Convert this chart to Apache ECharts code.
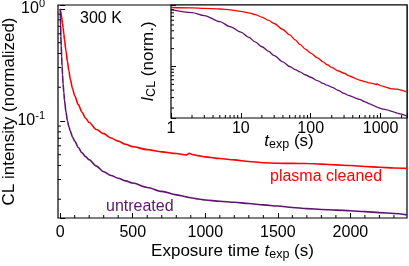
<!DOCTYPE html>
<html>
<head>
<meta charset="utf-8">
<script src="https://cdn.jsdelivr.net/npm/echarts@6/dist/echarts.min.js"></script>
<style>html,body{margin:0;padding:0;background:#fff;}#c{width:409px;height:266px;}</style>
</head>
<body>
<div id="c"></div>
<script>
// ---- data ----
const times = [0, 1, 2, 3, 5, 7, 10, 13, 16, 20, 25, 30, 40, 50, 60, 70, 85, 100, 125, 150, 175, 200, 250, 300, 350, 400, 450, 500, 600, 700, 800, 870, 890, 910, 950, 1000, 1100, 1200, 1300, 1400, 1500, 1600, 1700, 1800, 1900, 2000, 2100, 2200, 2300, 2390];
const plasmaCleaned = [1.0, 0.985, 0.97, 0.955, 0.93, 0.9, 0.85, 0.80, 0.75, 0.68, 0.60, 0.53, 0.42, 0.34, 0.28, 0.235, 0.195, 0.168, 0.14, 0.12, 0.106, 0.097, 0.084, 0.077, 0.0705, 0.066, 0.062, 0.059, 0.0555, 0.053, 0.0512, 0.0498, 0.0515, 0.0502, 0.049, 0.0478, 0.0462, 0.0449, 0.0435, 0.0424, 0.0419, 0.0418, 0.0417, 0.0412, 0.0405, 0.0400, 0.0392, 0.0386, 0.038, 0.0377];
const untreated = [1.0, 0.91, 0.81, 0.72, 0.57, 0.47, 0.38, 0.31, 0.26, 0.215, 0.18, 0.153, 0.12, 0.10, 0.089, 0.081, 0.072, 0.066, 0.058, 0.052, 0.048, 0.045, 0.0395, 0.0352, 0.0326, 0.0308, 0.0292, 0.0279, 0.0255, 0.0235, 0.0219, 0.021, 0.0207, 0.0205, 0.0201, 0.0197, 0.0192, 0.0188, 0.0183, 0.0178, 0.0174, 0.0169, 0.0165, 0.0162, 0.016, 0.0158, 0.0155, 0.0152, 0.0149, 0.0145];

const mainXMinorTicks = [100, 200, 300, 400, 600, 700, 800, 900, 1100, 1200, 1300, 1400, 1600, 1700, 1800, 1900, 2100, 2200, 2300];
const logYMinorTicks = [0.02, 0.03, 0.04, 0.05, 0.06, 0.07, 0.08, 0.09, 0.2, 0.3, 0.4, 0.5, 0.6, 0.7, 0.8, 0.9];
const logXMinorTicks = [2, 3, 4, 5, 6, 7, 8, 9, 20, 30, 40, 50, 60, 70, 80, 90, 200, 300, 400, 500, 600, 700, 800, 900, 2000];

const X_MIN = -15, X_MAX = 2390;
const Y_MIN = 0.0136, Y_MAX = 1.085;
const IX_MIN = 1, IX_MAX = 2390;

const RED = '#ff0000';
const PURPLE = '#5e146e';
const FONT = '"Liberation Sans", Arial, sans-serif';

const chart = echarts.init(document.getElementById('c'), null, {renderer: 'canvas'});

const isPow10 = v => Math.abs(Math.log10(v) - Math.round(Math.log10(v))) < 1e-6;

function pairs(vals, positiveOnly) {
  const out = [];
  for (let i = 0; i < times.length; i++) {
    if (positiveOnly && times[i] <= 0) continue;
    out.push([times[i], vals[i]]);
  }
  return out;
}

function tickSeries(xi, yi, data, dir, len, z) {
  return {
    type: 'custom', xAxisIndex: xi, yAxisIndex: yi, z: z, silent: true, clip: false,
    data: data,
    renderItem: function (params, api) {
      const p = api.coord([api.value(0), api.value(1)]);
      const shape = dir === 'y'
        ? {x1: p[0], y1: p[1], x2: p[0] + len, y2: p[1]}
        : {x1: p[0], y1: p[1], x2: p[0], y2: p[1] - len};
      return {type: 'line', shape: shape, style: {stroke: '#000', lineWidth: 1}};
    }
  };
}

const supRich = {
  b: {fontSize: 16, fontFamily: FONT, color: '#000', lineHeight: 20},
  s: {fontSize: 11, fontFamily: FONT, color: '#000', lineHeight: 10, verticalAlign: 'top'}
};
const nameRich = {
  n: {fontSize: 17, fontFamily: FONT, color: '#000', lineHeight: 20},
  i: {fontSize: 17, fontFamily: FONT, color: '#000', fontStyle: 'italic', lineHeight: 20},
  s: {fontSize: 12.5, fontFamily: FONT, color: '#000', lineHeight: 11, verticalAlign: 'bottom'}
};

const option = {
  animation: false,
  backgroundColor: '#fff',
  grid: [
    {left: 58, right: 2, top: 5, bottom: 48, containLabel: false, outerBoundsMode: 'none', show: true, borderColor: '#000', borderWidth: 1.2, backgroundColor: 'transparent', z: 0},
    {left: 171, right: 2, top: 5, bottom: 148, containLabel: false, outerBoundsMode: 'none', show: true, borderColor: '#000', borderWidth: 1.2, backgroundColor: '#fff', z: 10}
  ],
  xAxis: [
    {
      type: 'value', gridIndex: 0, min: X_MIN, max: X_MAX,
      axisLine: {show: false}, splitLine: {show: false},
      axisTick: {show: true, inside: true, length: 5, lineStyle: {color: '#000', width: 1}},
      axisLabel: {
        margin: 7, fontSize: 16, fontFamily: FONT, color: '#000',
        showMinLabel: false, showMaxLabel: false,
        formatter: v => (v >= 0 && v % 500 === 0) ? String(v) : ''
      },
      name: '{n|Exposure time }{i|t}{s|exp}{n| (s)}',
      nameLocation: 'middle', nameGap: 23, nameMoveOverlap: false,
      nameTextStyle: {rich: nameRich}
    },
    {
      type: 'log', gridIndex: 1, min: IX_MIN, max: IX_MAX, logBase: 10, z: 11,
      axisLine: {show: false}, splitLine: {show: false},
      axisTick: {show: true, inside: true, length: 5, lineStyle: {color: '#000', width: 1}},
      axisLabel: {
        margin: 3, fontSize: 16, fontFamily: FONT, color: '#000',
        formatter: v => isPow10(v) ? String(Math.round(v)) : ''
      },
      name: '{i|t}{s|exp}{n| (s)}',
      nameLocation: 'middle', nameGap: 13, nameMoveOverlap: false,
      nameTextStyle: {rich: nameRich}
    }
  ],
  yAxis: [
    {
      type: 'log', gridIndex: 0, min: Y_MIN, max: Y_MAX, logBase: 10,
      axisLine: {show: false}, splitLine: {show: false},
      axisTick: {show: true, inside: true, length: 5, lineStyle: {color: '#000', width: 1}},
      axisLabel: {
        margin: 13,
        formatter: v => isPow10(v) ? '{b|10}{s|' + Math.round(Math.log10(v)) + '}' : '',
        rich: supRich
      },
      name: 'CL intensity (normalized)',
      nameLocation: 'middle', nameGap: 40, nameMoveOverlap: false,
      nameTextStyle: {fontSize: 17, fontFamily: FONT, color: '#000'}
    },
    {
      type: 'log', gridIndex: 1, min: Y_MIN, max: Y_MAX, logBase: 10, z: 11,
      axisLine: {show: false}, splitLine: {show: false},
      axisTick: {show: true, inside: true, length: 5, lineStyle: {color: '#000', width: 1}},
      axisLabel: {show: false},
      name: '{i|I}{s|CL}{n| (norm.)}',
      nameLocation: 'middle', nameGap: 13, nameMoveOverlap: false,
      nameTextStyle: {rich: nameRich}
    }
  ],
  series: [
    {type: 'line', xAxisIndex: 0, yAxisIndex: 0, z: 2, data: pairs(plasmaCleaned, false), showSymbol: false, smooth: 0.3, smoothMonotone: 'x', lineStyle: {color: RED, width: 1.6}},
    {type: 'line', xAxisIndex: 0, yAxisIndex: 0, z: 2, data: pairs(untreated, false), showSymbol: false, smooth: 0.3, smoothMonotone: 'x', lineStyle: {color: PURPLE, width: 1.6}},
    {type: 'line', xAxisIndex: 1, yAxisIndex: 1, z: 12, data: pairs(plasmaCleaned, true), showSymbol: false, smooth: 0.3, smoothMonotone: 'x', lineStyle: {color: RED, width: 1.3}},
    {type: 'line', xAxisIndex: 1, yAxisIndex: 1, z: 12, data: pairs(untreated, true), showSymbol: false, smooth: 0.3, smoothMonotone: 'x', lineStyle: {color: PURPLE, width: 1.3}},
    tickSeries(0, 0, logYMinorTicks.map(v => [X_MIN, v]), 'y', 3, 3),
    tickSeries(0, 0, mainXMinorTicks.map(v => [v, Y_MIN]), 'x', 3, 3),
    tickSeries(1, 1, logYMinorTicks.map(v => [IX_MIN, v]), 'y', 3, 13),
    tickSeries(1, 1, logXMinorTicks.map(v => [v, Y_MIN]), 'x', 3, 13)
  ],
  graphic: [
    {type: 'text', z: 5, style: {x: 80, y: 19, text: '300 K', font: '16px ' + FONT, fill: '#000', verticalAlign: 'middle'}},
    {type: 'text', z: 5, style: {x: 270, y: 177, text: 'plasma cleaned', font: '16px ' + FONT, fill: RED, verticalAlign: 'middle'}},
    {type: 'text', z: 5, style: {x: 106, y: 207, text: 'untreated', font: '16px ' + FONT, fill: PURPLE, verticalAlign: 'middle'}}
  ]
};
chart.setOption(option);
</script>
</body>
</html>
